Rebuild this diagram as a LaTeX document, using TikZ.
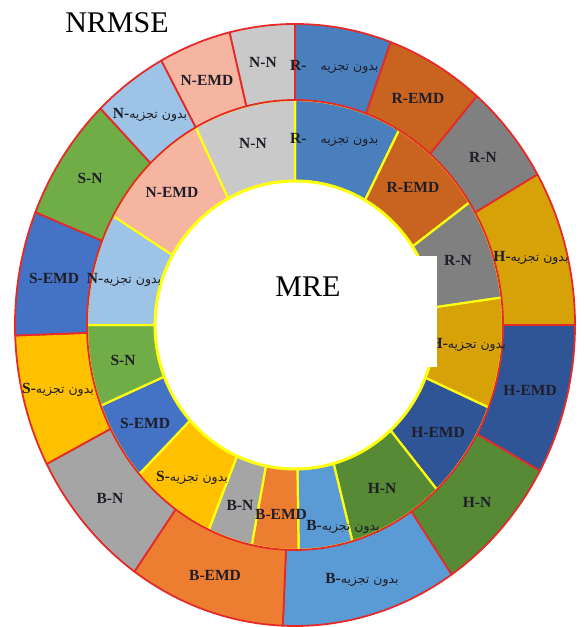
\documentclass[tikz,border=0pt]{standalone}
\usepackage{fontspec}
\setmainfont{Liberation Serif}
\newfontfamily\fa[Script=Arabic]{DejaVu Sans}
\TeXXeTstate=1
\definecolor{cRb}{HTML}{4A7FBD}
\definecolor{cRem}{HTML}{C8641F}
\definecolor{cRn}{HTML}{808080}
\definecolor{cHb}{HTML}{D6A208}
\definecolor{cHem}{HTML}{2F5597}
\definecolor{cHn}{HTML}{568A35}
\definecolor{cBb}{HTML}{5B9BD5}
\definecolor{cBem}{HTML}{ED7D31}
\definecolor{cBn}{HTML}{A5A5A5}
\definecolor{cSb}{HTML}{FFC000}
\definecolor{cSem}{HTML}{4472C4}
\definecolor{cSn}{HTML}{70AD47}
\definecolor{cNb}{HTML}{9DC3E6}
\definecolor{cNem}{HTML}{F5B5A0}
\definecolor{cNn}{HTML}{C9C9C9}
\definecolor{redline}{HTML}{E52A2A}
\definecolor{ylw}{HTML}{FFFF10}
\definecolor{labtext}{HTML}{1E1E28}
\newcommand\bt{{\fa\mdseries\fontsize{12.5}{12.5}\selectfont\beginR بدون تجزیه\endR}}
\newcommand\pl[1]{\textbf{#1-}\bt}
\begin{document}
\begin{tikzpicture}[x=1pt,y=1pt,
  lab/.style={font=\bfseries\fontsize{15.5}{15.5}\selectfont, text=labtext, inner sep=0pt},
  big/.style={font=\fontsize{30}{30}\selectfont, text=black, inner sep=0pt}]
\useasboundingbox (0,0) rectangle (584,627);
\def\cx{295}\def\cy{302}
% inner ring (MRE)
\foreach \a/\b/\c in {0/30/cRb, 30/57/cRem, 57/83/cRn, 83/111.5/cHb, 111.5/137/cHem, 137/164/cHn, 164/179/cBb, 179/192/cBem, 192/204.5/cBn, 204.5/228.5/cSb, 228.5/249/cSem, 249/270/cSn, 270/299/cNb, 299/331.5/cNem, 331.5/360/cNn}{
  \filldraw[fill=\c, draw=ylw, line width=2.2pt, line join=round]
    ({\cx+208*sin(\a)},{\cy+225*cos(\a)})
    arc[start angle={90-\a}, end angle={90-\b}, x radius=208pt, y radius=225pt]
    -- ({\cx+140*sin(\b)},{\cy+144*cos(\b)})
    arc[start angle={90-\b}, end angle={90-\a}, x radius=140pt, y radius=144pt]
    -- cycle;
}
\filldraw[fill=white, draw=ylw, line width=3pt] (\cx,\cy) ellipse[x radius=140pt, y radius=144pt];
% outer ring (NRMSE)
\foreach \a/\b/\c in {0/20/cRb, 20/40.5/cRem, 40.5/60/cRn, 60/90/cHb, 90/119/cHem, 119/146/cHn, 146/182.5/cBb, 182.5/215/cBem, 215/242.5/cBn, 242.5/268/cSb, 268/292/cSem, 292/316/cSn, 316/331.5/cNb, 331.5/346.5/cNem, 346.5/360/cNn}{
  \filldraw[fill=\c, draw=redline, line width=1.8pt, line join=round]
    ({\cx+280*sin(\a)},{\cy+301*cos(\a)})
    arc[start angle={90-\a}, end angle={90-\b}, x radius=280pt, y radius=301pt]
    -- ({\cx+208*sin(\b)},{\cy+225*cos(\b)})
    arc[start angle={90-\b}, end angle={90-\a}, x radius=208pt, y radius=225pt]
    -- cycle;
}
% text box covering part of the inner ring
\fill[white] (265,260) rectangle (437,371);
% outer labels
\node[lab, anchor=west] (oRb) at (290,560) {\textbf{R-}\hspace{14pt}\bt};
\node[lab] (oRem) at (418,529) {R-EMD};
\node[lab] (oRn) at (483,470) {R-N};
\node[lab] (oHb) at (531,369) {\pl{H}};
\node[lab] (oHem) at (530,237) {H-EMD};
\node[lab] (oHn) at (477,125) {H-N};
\node[lab] (oBb) at (362,47) {\pl{B}};
\node[lab] (oBem) at (215,52) {B-EMD};
\node[lab] (oBn) at (110,129) {B-N};
\node[lab] (oSb) at (58,237) {\pl{S}};
\node[lab] (oSem) at (54,349) {S-EMD};
\node[lab] (oSn) at (90,449) {S-N};
\node[lab] (oNb) at (150,512) {\pl{N}};
\node[lab] (oNem) at (207,547) {N-EMD};
\node[lab] (oNn) at (263,565) {N-N};
% inner labels
\node[lab, anchor=west] (iRb) at (290,487) {\textbf{R-}\hspace{14pt}\bt};
\node[lab] (iRem) at (413,440) {R-EMD};
\node[lab] (iRn) at (458,367) {R-N};
\begin{scope}
\clip (437,200) rectangle (584,400);
\node[lab, anchor=east] (iHb) at (506,282) {\pl{H}};
\end{scope}
\node[lab] (iHem) at (438,195) {H-EMD};
\node[lab] (iHn) at (382,139) {H-N};
\node[lab] (iBb) at (343,100) {\pl{B}};
\node[lab] (iBn) at (240,122) {B-N};
\node[lab] (iBem) at (281,113) {B-EMD};
\node[lab] (iSb) at (192,149) {\pl{S}};
\node[lab] (iSem) at (145,204) {S-EMD};
\node[lab] (iSn) at (123,267) {S-N};
\node[lab] (iNb) at (124,347) {\pl{N}};
\node[lab] (iNem) at (172,435) {N-EMD};
\node[lab] (iNn) at (253,484) {N-N};
% titles
\node[big] (mre) at (308,340) {MRE};
\node[big] (nrmse) at (117,604) {NRMSE};
\end{tikzpicture}
\end{document}
